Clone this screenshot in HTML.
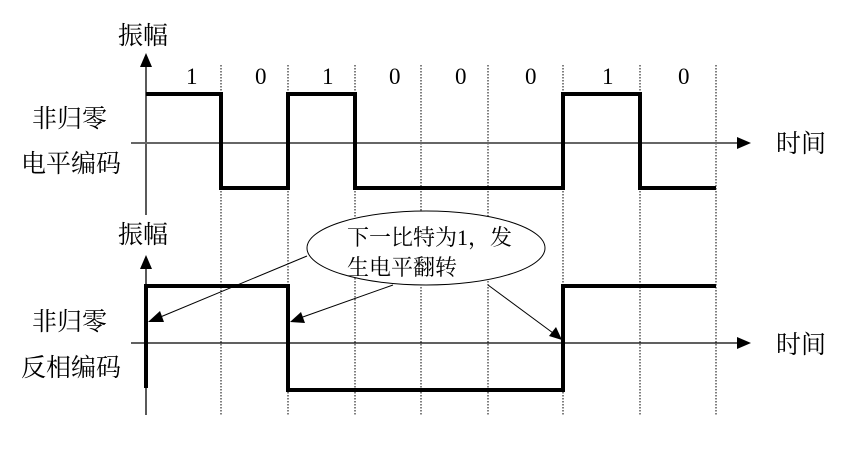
<!DOCTYPE html>
<html><head><meta charset="utf-8"><style>
html,body{margin:0;padding:0;background:#fff;width:868px;height:456px;overflow:hidden}
text{font-family:"Liberation Serif","Noto Serif CJK SC",serif;fill:#000}
</style></head><body>
<svg width="868" height="456" viewBox="0 0 868 456" xmlns="http://www.w3.org/2000/svg">
<g stroke="#000" stroke-width="1" stroke-dasharray="1.5,1.5" fill="none">
<line x1="221" y1="65" x2="221" y2="415"/>
<line x1="288" y1="65" x2="288" y2="415"/>
<line x1="355" y1="65" x2="355" y2="415"/>
<line x1="421" y1="65" x2="421" y2="415"/>
<line x1="488" y1="65" x2="488" y2="415"/>
<line x1="563" y1="65" x2="563" y2="415"/>
<line x1="640" y1="65" x2="640" y2="415"/>
<line x1="716" y1="65" x2="716" y2="415"/>
</g>
<g stroke="#000" stroke-width="1.3">
<line x1="146" y1="65" x2="146" y2="215"/>
<line x1="131" y1="143" x2="738" y2="143" stroke="#666" stroke-width="2"/>
<line x1="146" y1="268" x2="146" y2="415"/>
<line x1="131" y1="343" x2="738" y2="343"/>
</g>
<polygon points="146,53 140,67 152,67" fill="#000"/>
<polygon points="146,255 140,269 152,269" fill="#000"/>
<polygon points="751,143 737,137 737,149" fill="#000"/>
<polygon points="751,343 737,337 737,349" fill="#000"/>
<polyline fill="none" stroke="#000" stroke-width="4" points="146,94 221,94 221,188 288,188 288,94 355,94 355,188 563,188 563,94 640,94 640,188 716,188"/>
<polyline fill="none" stroke="#000" stroke-width="4" points="146,388 146,286 288,286 288,390 563,390 563,286 716,286"/>
<ellipse cx="426" cy="248" rx="119" ry="37" fill="#fff" stroke="#000" stroke-width="1"/>
<g stroke="#000" stroke-width="1">
<line x1="307" y1="256" x2="158" y2="318"/>
<line x1="393" y1="285" x2="300" y2="318"/>
<line x1="488" y1="285" x2="553" y2="333"/>
</g>
<polygon points="148,322 160,311 164,322" fill="#000"/>
<polygon points="290,322 301,312 305,323" fill="#000"/>
<polygon points="562,340 549,336 556,327" fill="#000"/>
<g font-size="25">
<text x="118" y="44">振幅</text>
<text x="118" y="243">振幅</text>
<text x="32" y="127">非归零</text>
<text x="21" y="172">电平编码</text>
<text x="32" y="330">非归零</text>
<text x="21" y="376">反相编码</text>
<text x="776" y="152">时间</text>
<text x="776" y="353">时间</text>
</g>
<g font-size="23">
<text x="186" y="84">1</text>
<text x="255" y="84">0</text>
<text x="322" y="84">1</text>
<text x="389" y="84">0</text>
<text x="455" y="84">0</text>
<text x="525" y="84">0</text>
<text x="602" y="84">1</text>
<text x="678" y="84">0</text>
</g>
<g font-size="22">
<text x="347" y="245">下一比特为1，发</text>
<text x="347" y="275">生电平翻转</text>
</g>
</svg>
</body></html>
